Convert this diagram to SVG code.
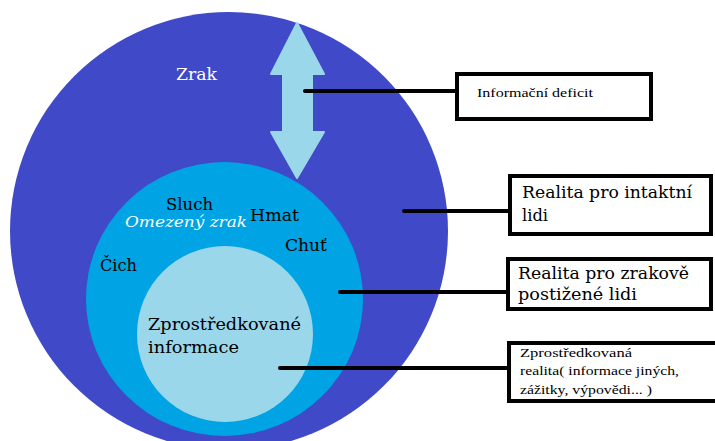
<svg xmlns="http://www.w3.org/2000/svg" width="715" height="441" viewBox="0 0 715 441">
<style>
.lbl{font-family:'DejaVu Serif','Liberation Serif',serif;font-size:17px;fill:#000}
.sm{font-family:'Liberation Serif','DejaVu Serif',serif;font-size:13px;fill:#000}
.box{fill:#fff;stroke:#000;stroke-width:4}
.con{stroke:#000;stroke-width:4;stroke-linecap:round;fill:none}
</style>
<rect width="715" height="441" fill="#fff"/>
<g id="outer">
<circle cx="229" cy="231" r="219" fill="#4049c8"/>
<text x="176" y="80" class="lbl" style="fill:#fff" textLength="41" lengthAdjust="spacingAndGlyphs">Zrak</text>
</g>
<g id="middle">
<ellipse cx="224.5" cy="299" rx="138.5" ry="137" fill="#00a3e4"/>
<text x="166" y="210" class="lbl" textLength="47" lengthAdjust="spacingAndGlyphs">Sluch</text>
<text x="125" y="227" class="lbl" style="fill:#fff;font-style:italic;font-size:15px" textLength="122" lengthAdjust="spacingAndGlyphs">Omezený zrak</text>
<text x="250" y="221" class="lbl" textLength="49" lengthAdjust="spacingAndGlyphs">Hmat</text>
<text x="285" y="251" class="lbl" textLength="42" lengthAdjust="spacingAndGlyphs">Chuť</text>
<text x="100" y="271" class="lbl" textLength="37" lengthAdjust="spacingAndGlyphs">Čich</text>
</g>
<g id="inner">
<circle cx="225" cy="334" r="88" fill="#9bd7ea"/>
<text x="148" y="330" class="lbl" textLength="153" lengthAdjust="spacingAndGlyphs">Zprostředkované</text>
<text x="148" y="353" class="lbl" textLength="91" lengthAdjust="spacingAndGlyphs">informace</text>
</g>
<g id="arrow">
<path d="M297,23 L324,74 L312,74 L312,132 L324,132 L297,178 L271,132 L283,132 L283,74 L271,74 Z" fill="#9bd7ea" stroke="#9bd7ea" stroke-width="2" stroke-linejoin="round"/>
</g>
<g id="connectors">
<line x1="305" y1="91" x2="457" y2="91" class="con"/>
<line x1="404" y1="211" x2="510" y2="211" class="con"/>
<line x1="340" y1="292" x2="508" y2="292" class="con"/>
<line x1="280" y1="368" x2="509" y2="368" class="con"/>
</g>
<g id="box-deficit">
<rect x="457" y="74" width="194" height="45" class="box"/>
<text x="477" y="97" class="sm" textLength="116" lengthAdjust="spacingAndGlyphs">Informační deficit</text>
</g>
<g id="box-intaktni">
<rect x="510" y="176" width="201" height="58" class="box"/>
<text x="522" y="198" class="lbl" textLength="170" lengthAdjust="spacingAndGlyphs">Realita pro intaktní</text>
<text x="522" y="221" class="lbl" textLength="26" lengthAdjust="spacingAndGlyphs">lidi</text>
</g>
<g id="box-postizene">
<rect x="508" y="259" width="203" height="50" class="box"/>
<text x="518" y="279" class="lbl" textLength="171" lengthAdjust="spacingAndGlyphs">Realita pro zrakově</text>
<text x="518" y="300" class="lbl" textLength="119" lengthAdjust="spacingAndGlyphs">postižené lidi</text>
</g>
<g id="box-zprostredkovana">
<rect x="509" y="343" width="210" height="58" class="box"/>
<text x="520" y="357" class="sm" textLength="112" lengthAdjust="spacingAndGlyphs">Zprostředkovaná</text>
<text x="520" y="375" class="sm" textLength="159" lengthAdjust="spacingAndGlyphs">realita( informace jiných,</text>
<text x="520" y="394" class="sm" textLength="132" lengthAdjust="spacingAndGlyphs">zážitky, výpovědi... )</text>
</g>
</svg>
